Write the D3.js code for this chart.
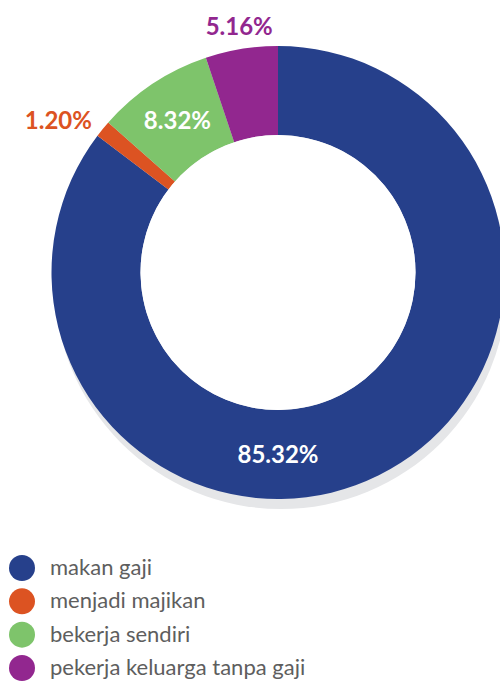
<!DOCTYPE html>
<html>
<head>
<meta charset="utf-8">
<script src="https://cdn.jsdelivr.net/npm/d3@7"></script>
<style>
  html, body { margin: 0; padding: 0; background: #fff; overflow: hidden; }
  svg { display: block; }
</style>
</head>
<body>
<div id="chart"></div>
<script>
var categories = ["makan gaji", "menjadi majikan", "bekerja sendiri", "pekerja keluarga tanpa gaji"];
var values = [85.32, 1.20, 8.32, 5.16];
var colors = ["#26408b", "#dc5322", "#7ec46b", "#92278f"];

var width = 500, height = 685;
var cx = 278, cy = 272.5;
var outerR = 226.5, innerR = 137.5;

var svg = d3.select("#chart").append("svg")
    .attr("width", width)
    .attr("height", height);

var data = categories.map(function (c, i) {
    return { name: c, value: values[i], color: colors[i] };
});

var pie = d3.pie().sort(null).value(function (d) { return d.value; });
var arcs = pie(data);

var arc = d3.arc().innerRadius(innerR).outerRadius(outerR);

var g = svg.append("g").attr("transform", "translate(" + cx + "," + cy + ")");

// soft grey shadow under the ring (only outside the hole)
g.append("circle")
    .attr("cx", 3)
    .attr("cy", 10)
    .attr("r", outerR)
    .attr("fill", "#e5e6e8");

g.selectAll("path.slice")
    .data(arcs)
    .enter().append("path")
    .attr("class", "slice")
    .attr("d", arc)
    .attr("fill", function (d) { return d.data.color; });

g.append("circle")
    .attr("r", innerR)
    .attr("fill", "#ffffff");

// labels
var midR = (innerR + outerR) / 2;
var outR = outerR + 14;

g.selectAll("text.pct")
    .data(arcs)
    .enter().append("text")
    .attr("class", "pct")
    .each(function (d) {
        var a = (d.startAngle + d.endAngle) / 2;
        var inside = d.data.value >= 6;
        // a big slice that wraps the bottom gets its label at the bottom
        if (d.startAngle < Math.PI && d.endAngle > Math.PI && (d.endAngle - d.startAngle) > Math.PI) a = Math.PI;
        var r = inside ? midR : outR;
        var x = r * Math.sin(a), y = -r * Math.cos(a);
        var anchor = "middle", dy = "0.36em";
        if (!inside) {
            if (Math.sin(a) < -0.5) anchor = "end";
            else if (Math.sin(a) > 0.5) anchor = "start";
            else dy = "0em";
        }
        d3.select(this)
            .attr("x", x)
            .attr("y", y)
            .attr("dy", dy)
            .attr("text-anchor", anchor)
            .attr("fill", inside ? "#ffffff" : d.data.color)
            .text(d3.format(".2f")(d.data.value) + "%");
    })
    .style("font-family", "Lato, 'Open Sans', sans-serif")
    .style("font-weight", "700")
    .style("font-size", "24px");

// legend
var legend = svg.append("g").attr("transform", "translate(22,568)");

var ly = d3.scalePoint().domain(categories).range([0, 100]);

var item = legend.selectAll("g.item")
    .data(data)
    .enter().append("g")
    .attr("class", "item")
    .attr("transform", function (d) { return "translate(0," + ly(d.name) + ")"; });

item.append("circle")
    .attr("r", 13)
    .attr("fill", function (d) { return d.color; });

item.append("text")
    .attr("x", 28)
    .attr("dy", "0.32em")
    .attr("fill", "#5e5e5e")
    .style("font-family", "Lato, 'Open Sans', sans-serif")
    .style("font-size", "22px")
    .text(function (d) { return d.name; });
</script>
</body>
</html>
